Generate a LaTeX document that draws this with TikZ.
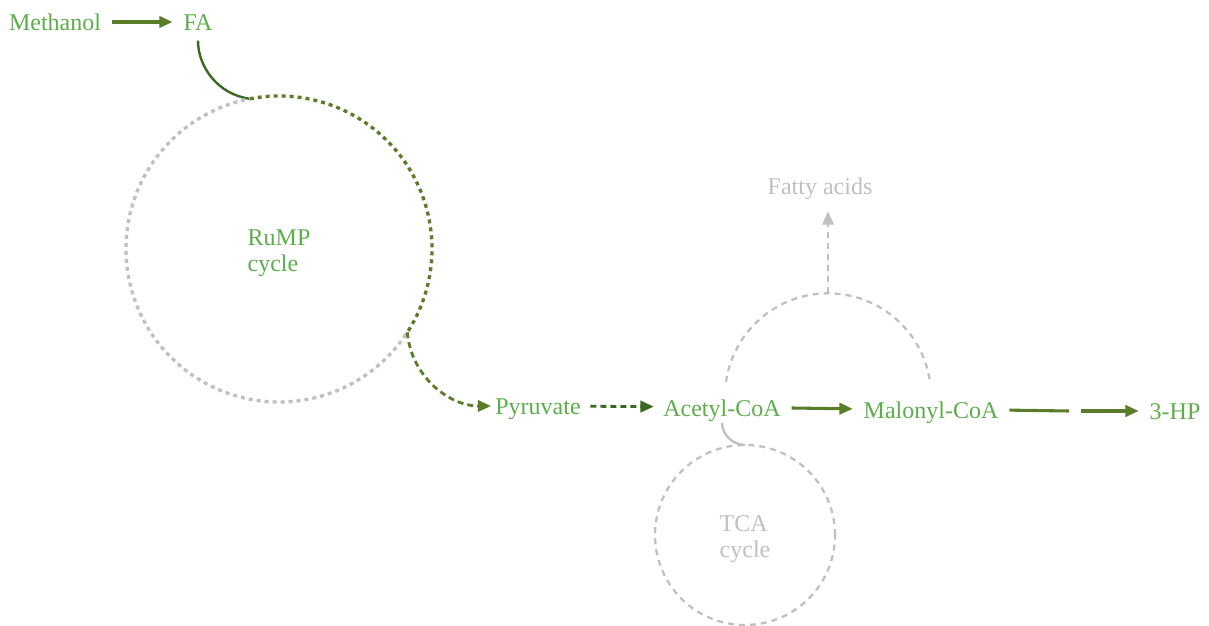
\documentclass[tikz,border=0pt]{standalone}
\usepackage{fontspec}
\setmainfont{Liberation Serif}
\usetikzlibrary{arrows.meta,positioning,calc}
\definecolor{sprout}{RGB}{92,174,74}
\definecolor{stem}{RGB}{90,125,42}
\definecolor{moss}{RGB}{58,105,32}
\definecolor{ash}{RGB}{192,192,192}
\tikzset{
  >={Triangle[length=10pt,width=8.5pt]},
  metab/.style={text=#1,inner sep=1pt,text height=15.5pt,text depth=2pt,
    font=\fontsize{18}{20}\selectfont},
  metab/.default=sprout,
  cyclebox/.style={circle,minimum size=#1,inner sep=0pt,outer sep=0pt},
  cyclelabel/.style={text=#1,inner sep=0pt,align=left,
    font=\fontsize{18}{19.5}\selectfont},
  flow/.style={->,line width=2.3pt,draw=#1,shorten <=7pt,shorten >=7pt},
  flow/.default=stem,
  dflow/.style={->,line width=2.1pt,draw=#1,dash pattern=on 4.5pt off 3pt},
  dflow/.default=moss,
  rumpdash/.style={line width=2.5pt,dash pattern=on 3pt off 3pt},
  ring/.style={draw=ash,line width=1.7pt,dash pattern=on 4.5pt off 3.75pt},
}

\begin{document}
\begin{tikzpicture}[x=0.75pt,y=0.75pt]
    \useasboundingbox (0,0) rectangle (1209,625);
    \node[metab] (meth) at (55,603) {Methanol};
    \node[metab] (fa) at (198,603) {FA};
    \node[cyclebox=229.5pt] (rump) at (279,376) {};
    \node[cyclelabel=sprout] (rumplab) at ([yshift=-3pt]rump.center) {RuMP\\cycle};
    \node[metab] (pyr) at (538,219) {Pyruvate};
    \node[metab] (accoa) at (722,218) {Acetyl-CoA};
    \node[metab] (malcoa) at (931,215) {Malonyl-CoA};
    \node[metab] (hp) at (1175,214) {3-HP};
    \node[metab=ash] (fatty) at (820,439) {Fatty acids};
    \node[cyclebox=135pt,ring] (tca) at (745,90) {};
    \node[cyclelabel=ash] (tcalab) at ([yshift=-3pt]tca.center) {TCA\\cycle};
    % RuMP cycle
    \draw[flow] (meth) -- (fa);
    \draw[moss,line width=1.8pt,shorten <=4pt] (fa.south) to[out=-90,in=172] (rump.101);
    \draw[rumpdash,draw=stem] (rump.101) arc[start angle=101,end angle=-34,radius=153];
    \draw[rumpdash,draw=ash] (rump.-34) arc[start angle=-34,end angle=-259,radius=153];
    \draw[dflow=stem,shorten >=2pt] (rump.-33) to[out=-85,in=180] (pyr.west);
    % main route
    \draw[dflow,shorten <=6pt,shorten >=6pt] (pyr) -- (accoa);
    \draw[flow] (accoa) -- (malcoa);
    \coordinate (gapl) at (1069,214);
    \coordinate (gapr) at (1081,214);
    \draw[stem,line width=2.3pt,shorten <=7pt] (malcoa.east) -- (gapl);
    \draw[flow,shorten <=0pt] (gapr) -- (hp);
    % side routes
    \coordinate (fatl) at (726,243);
    \coordinate (fatop) at (828,332);
    \draw[ring] (fatl) arc[start angle=172,end angle=8,radius=103];
    \draw[ring,->,draw=ash,fill=ash,shorten >=9pt] (fatop) -- (fatop |- fatty.south);
    \draw[ash,line width=1.8pt,shorten <=2pt] (accoa.south) to[out=-90,in=180] (tca.north);
  \end{tikzpicture}
\end{document}
